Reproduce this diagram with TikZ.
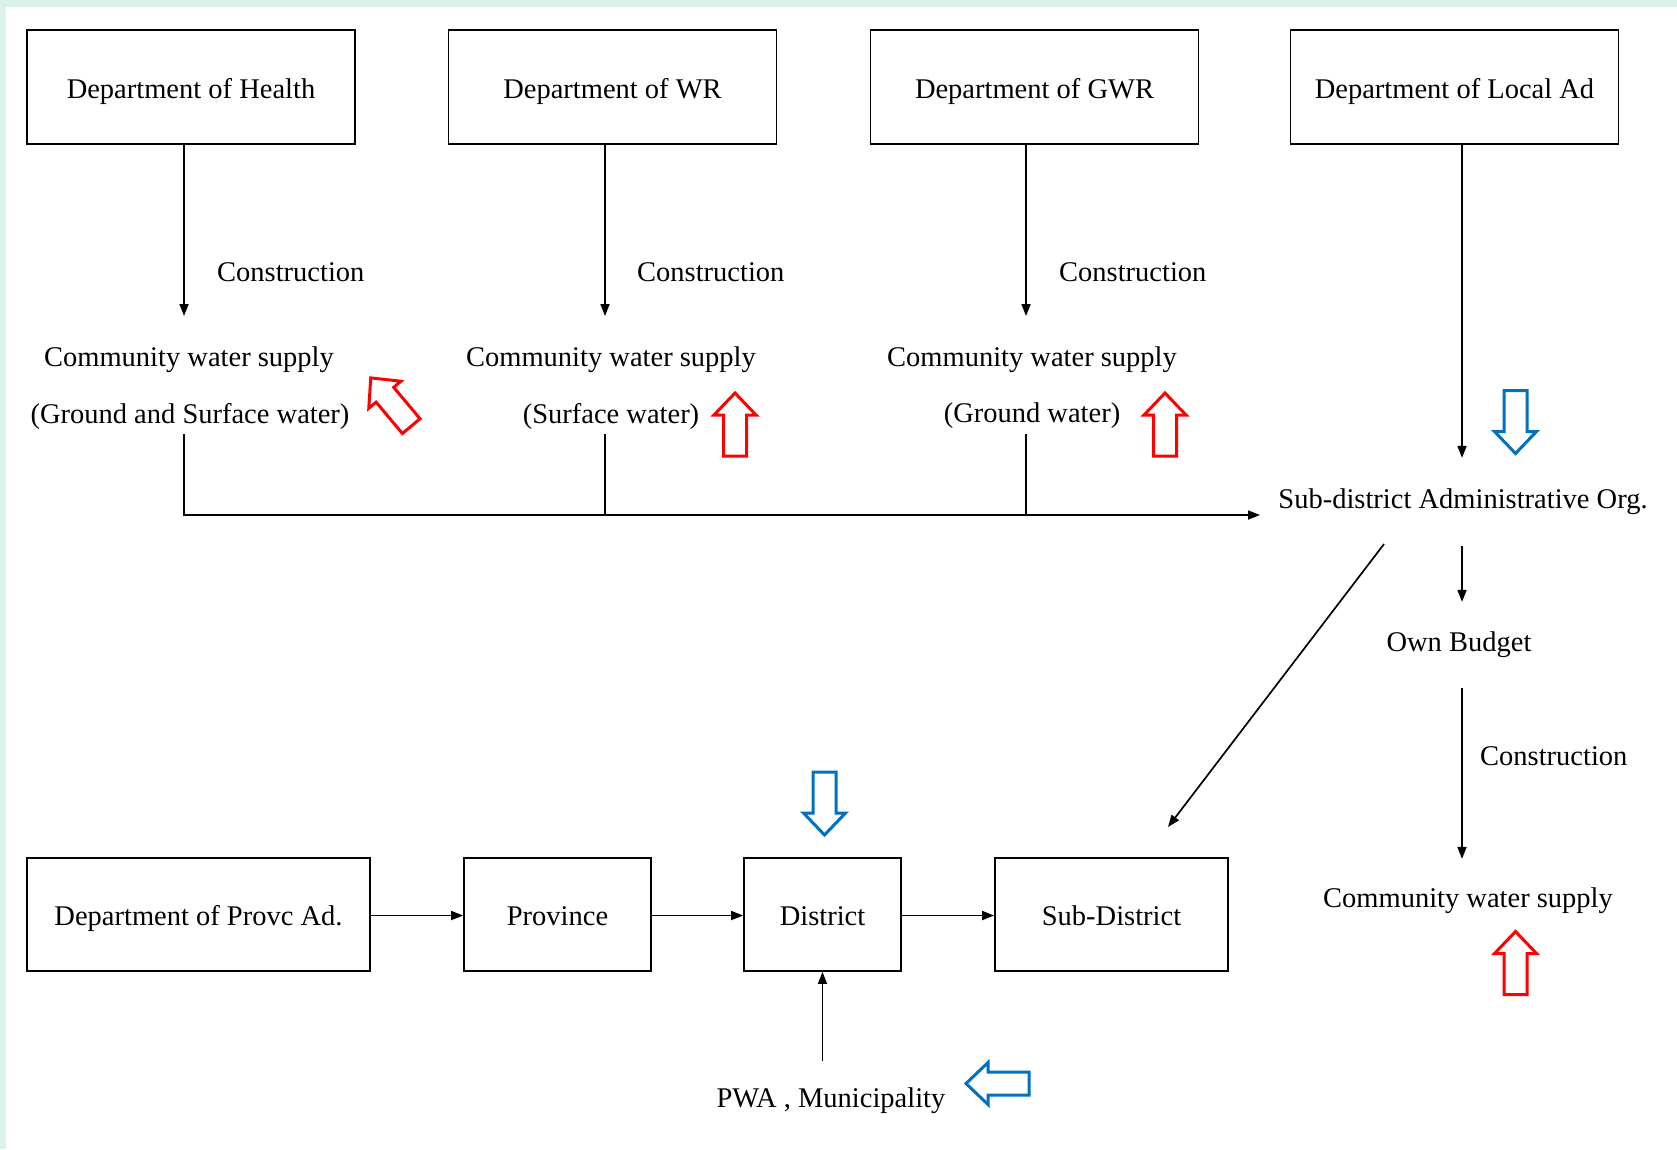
\documentclass[tikz,border=0pt]{standalone}
\usepackage{fontspec}
\setmainfont{Liberation Serif}
\usetikzlibrary{arrows.meta,calc}
\definecolor{bgteal}{RGB}{217,242,236}
\definecolor{hred}{RGB}{255,0,0}
\definecolor{hblue}{RGB}{0,112,192}
\begin{document}
\begin{tikzpicture}[x=1pt,y=-1pt,
  txt/.style={font=\fontsize{28.5}{34}\selectfont, inner xsep=0pt, inner ysep=3pt},
  box/.style={draw, line width=1.8pt, font=\fontsize{28.5}{34}\selectfont, minimum height=114pt, text height=28pt, text depth=6pt},
  conn/.style={line width=1.7pt},
  arr/.style={conn, -{Triangle[length=12pt,width=9pt]}},
  fatarrow/.pic={\draw[line width=3pt, miter limit=10] (-11.5,31.5) -- (11.5,31.5) -- (11.5,-9.5) -- (21,-9.5) -- (0,-31.5) -- (-21,-9.5) -- (-11.5,-9.5) -- cycle;}
]
\useasboundingbox (0,0) rectangle (1677,1149);
\fill[bgteal] (0,0) rectangle (1677,1149);
\fill[white] (6,7) rectangle (1677,1149);

% top boxes
\node[box, minimum width=328pt] (hb) at (191,87) {Department of Health};
\node[box, minimum width=328pt] (wb) at (612.5,87) {Department of WR};
\node[box, minimum width=328pt] (gb) at (1034.5,87) {Department of GWR};
\node[box, minimum width=328pt] (lb) at (1454.5,87) {Department of Local Ad};

% arrow tips
\coordinate (a1) at (184,316);
\coordinate (a2) at (605,316);
\coordinate (a3) at (1026,316);
\coordinate (a4) at (1462,458);
\coordinate (hend) at (1260,515);

% construction labels
\node[txt, anchor=west] (c1) at (217,272) {Construction};
\node[txt, anchor=west] (c2) at (637,272) {Construction};
\node[txt, anchor=west] (c3) at (1059,272) {Construction};

% community water supply texts
\node[txt] (w1) at (189,360) {Community water supply};
\node[txt] (w1b) at (190,416) {(Ground and Surface water)};
\node[txt] (w2) at (611,360) {Community water supply};
\node[txt] (w2b) at (611,416) {(Surface water)};
\node[txt] (w3) at (1032,360) {Community water supply};
\node[txt] (w3b) at (1032,416) {(Ground water)};

% right column
\node[txt, inner ysep=31pt] (sdao) at (1463,502) {Sub-district Administrative Org.};
\node[txt, inner ysep=30pt] (ob) at (1459,645) {Own Budget};
\node[txt, anchor=west] (c4) at (1480,756) {Construction};
\node[txt, inner ysep=29pt] (w4) at (1468,901) {Community water supply};

% bottom boxes
\node[box, minimum width=343pt, minimum height=113pt] (pb) at (198.5,914.5) {Department of Provc Ad.};
\node[box, minimum width=187pt, minimum height=113pt] (prv) at (557.5,914.5) {Province};
\node[box, minimum width=157pt, minimum height=113pt] (db) at (822.5,914.5) {District};
\node[box, minimum width=233pt, minimum height=113pt] (sdb) at (1111.5,914.5) {Sub-District};
\node[txt, inner ysep=27pt] (pwa) at (831,1101) {PWA , Municipality};

% connectors top
\draw[arr] (hb.south -| a1) -- (a1);
\draw[arr] (wb.south -| a2) -- (a2);
\draw[arr] (gb.south -| a3) -- (a3);
\draw[arr] (lb.south -| a4) -- (sdao.north -| a4);
\draw[arr] ($(w1b.south -| a1)+(0,2)$) |- (hend);
\draw[conn] ($(w2b.south -| a2)+(0,2)$) -- (a2 |- hend);
\draw[conn] ($(w3b.south -| a3)+(0,2)$) -- (a3 |- hend);

% right column connectors
\draw[arr] (sdao.south -| a4) -- (ob.north -| a4);
\draw[arr] (ob.south -| a4) -- (w4.north -| a4);
\coordinate (dstart) at (1384,544);
\coordinate (dend) at (1168,827);
\draw[arr] (dstart) -- (dend);

% bottom connectors
\draw[arr] ([yshift=-1pt]pb.east) -- ([yshift=-1pt]prv.west);
\draw[arr] ([yshift=-1pt]prv.east) -- ([yshift=-1pt]db.west);
\draw[arr] ([yshift=-1pt]db.east) -- ([yshift=-1pt]sdb.west);
\draw[arr] (pwa.north -| db.south) -- (db.south);

% hollow arrows
\pic[color=hred, rotate=40] at (391,402) {fatarrow};
\pic[color=hred] at (735,424.5) {fatarrow};
\pic[color=hred] at (1165,424.5) {fatarrow};
\pic[color=hred] at (1515.5,963) {fatarrow};
\pic[color=hblue, rotate=180] at (1515.5,422) {fatarrow};
\pic[color=hblue, rotate=180] at (824.5,803.5) {fatarrow};
\pic[color=hblue, rotate=90] at (997.5,1083.5) {fatarrow};
\end{tikzpicture}
\end{document}
